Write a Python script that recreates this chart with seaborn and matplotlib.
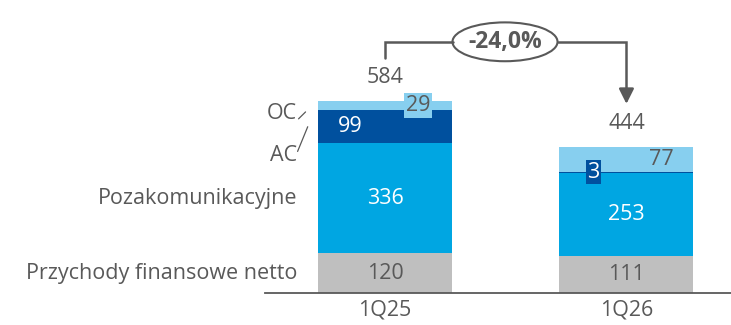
import numpy as np
import seaborn as sns
import matplotlib.pyplot as plt
from matplotlib.patches import Ellipse

# values
periods = ["1Q25", "1Q26"]
przychody_fin = [120, 111]
pozakom = [336, 253]
ac = [99, 3]
oc = [29, 77]
totals = [584, 444]
change_label = "-24,0%"
segment_names = ["Przychody finansowe netto", "Pozakomunikacyjne", "AC", "OC"]

sns.set_style("white")
plt.rcParams["font.family"] = ["Open Sans", "DejaVu Sans"]

GRAY = "#BFBFBF"
MID = "#00A6E2"
DARK = "#00509E"
LIGHT = "#87CFEF"
TXT = "#595959"

fig = plt.figure(figsize=(7.31, 3.25), dpi=100)
ax = fig.add_axes([0.3625, 0.0985, 0.6375, 0.9015])

segments = [przychody_fin, pozakom, ac, oc]
colors = [GRAY, MID, DARK, LIGHT]
bottom = np.zeros(len(periods))
for vals, col in zip(segments, colors):
    sns.barplot(x=periods, y=vals, bottom=bottom, color=col, saturation=1,
                width=0.555, linewidth=0, ax=ax)
    bottom = bottom + np.array(vals)

ax.set_xlim(-0.497, 1.433)
ax.set_ylim(0, 890)
ax.set_yticks([])
ax.set_xticks([0, 1])
fs = 15.5
ax.set_xticklabels(periods, fontsize=fs, color=TXT)
ax.tick_params(axis="x", length=0, pad=5)
for s in ["top", "right", "left"]:
    ax.spines[s].set_visible(False)
ax.spines["bottom"].set_color(TXT)
ax.spines["bottom"].set_linewidth(1.3)

pf = np.array(przychody_fin)
pk = np.array(pozakom)
a = np.array(ac)
o = np.array(oc)

# value labels inside bars
for i in range(2):
    ax.text(i, pf[i] / 2, str(pf[i]), ha="center", va="center", fontsize=fs, color=TXT)
    ax.text(i, pf[i] + pk[i] / 2, str(pk[i]), ha="center", va="center", fontsize=fs, color="white")
    ax.text(i, totals[i] + 70, str(totals[i]), ha="center", va="center", fontsize=fs, color=TXT)

# 1Q25 AC / OC
ax.text(-0.145, pf[0] + pk[0] + a[0] / 2, str(a[0]), ha="center", va="center", fontsize=fs, color="white")
ax.text(0.137, pf[0] + pk[0] + a[0] + o[0] / 2, str(o[0]), ha="center", va="center", fontsize=fs,
        color=TXT, bbox=dict(facecolor=LIGHT, edgecolor="none", pad=1.2))
# 1Q26 AC / OC
ax.text(0.863, pf[1] + pk[1] + a[1], str(a[1]), ha="center", va="center", fontsize=fs,
        color="white", bbox=dict(facecolor=DARK, edgecolor="none", pad=1.2))
ax.text(1.143, pf[1] + pk[1] + a[1] + o[1] / 2, str(o[1]), ha="center", va="center", fontsize=fs, color=TXT)

# segment names on the left
lx = -0.364
ax.text(lx, pf[0] / 2, segment_names[0], ha="right", va="center", fontsize=fs, color=TXT, clip_on=False)
ax.text(lx, pf[0] + pk[0] / 2, segment_names[1], ha="right", va="center", fontsize=fs, color=TXT, clip_on=False)
ax.text(lx, 419, segment_names[2], ha="right", va="center", fontsize=fs, color=TXT, clip_on=False)
ax.text(lx, 544, segment_names[3], ha="right", va="center", fontsize=fs, color=TXT, clip_on=False)
ax.plot([-0.358, -0.329], [529, 550], color=TXT, lw=0.9, clip_on=False)
ax.plot([-0.362, -0.32], [430, 505], color=TXT, lw=0.9, clip_on=False)

# change bracket
top_y = 763
ax.plot([0, 0, 0.28], [714, top_y, top_y], color=TXT, lw=1.8, solid_joinstyle="miter")
ax.plot([0.715, 1, 1], [top_y, top_y, 610], color=TXT, lw=1.8, solid_joinstyle="miter")
ax.annotate("", xy=(1, 566), xytext=(1, 612),
            arrowprops=dict(arrowstyle="-|>,head_length=0.9,head_width=0.45", color=TXT, lw=1.8))
ax.add_patch(Ellipse((0.497, top_y), 0.435, 118, facecolor="white", edgecolor=TXT, lw=1.5))
ax.text(0.497, top_y, change_label, ha="center", va="center", fontsize=16.5, fontweight="bold", color=TXT)

fig.savefig("out.png", dpi=100)
